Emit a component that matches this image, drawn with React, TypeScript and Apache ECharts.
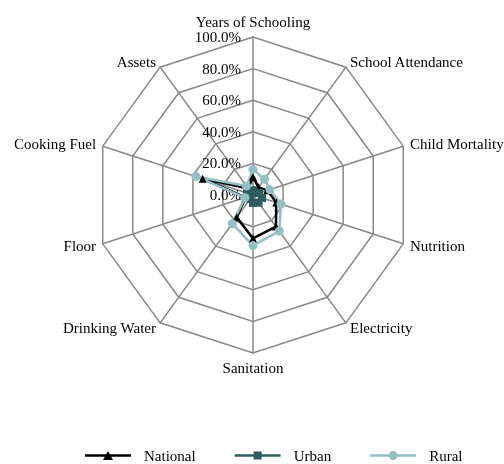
import React, { useEffect, useRef } from "react";
import * as echarts from "echarts";

const categories = [
  "Years of Schooling",
  "School Attendance",
  "Child Mortality",
  "Nutrition",
  "Electricity",
  "Sanitation",
  "Drinking Water",
  "Floor",
  "Cooking Fuel",
  "Assets",
];
const national = [11.5, 6, 9.5, 15.5, 24.7, 27.5, 17.5, 5, 33.5, 5];
const urban = [3, 2, 4, 6, 6, 5, 3, 2, 4, 2];
const rural = [16.2, 12.4, 11.2, 18.6, 28.3, 32, 22.4, 5.3, 38, 7];
const seriesNames = ["National", "Urban", "Rural"];
const colors = ["#000000", "#2E5C5E", "#93C0C2"];
const symbols = ["triangle", "rect", "circle"];

const FONT = "'Liberation Serif', 'Times New Roman', serif";

// legend icons: line with marker in the middle (46 x 9 box)
const LINE = "M0 3.2 L46 3.2 L46 5.8 L0 5.8 Z ";
const legendIcons = [
  "path://" + LINE + "M23 0 L28 9 L18 9 Z",
  "path://" + LINE + "M19 0.5 L27 0.5 L27 8.5 L19 8.5 Z",
  "path://" + LINE + "M27.5 4.5 A4.5 4.5 0 1 1 18.5 4.5 A4.5 4.5 0 1 1 27.5 4.5 Z",
];

export default function App() {
  const ref = useRef<HTMLDivElement>(null);
  useEffect(() => {
    if (!ref.current) return;
    const chart = echarts.init(ref.current, undefined, { renderer: "svg" });
    const n = categories.length;
    // clockwise ordering starting at the top
    const order = categories.map((_, i) => (n - i) % n);
    const dataSets = [national, urban, rural];
    chart.setOption({
      animation: false,
      textStyle: { fontFamily: FONT },
      legend: {
        bottom: -4,
        left: 80,
        itemWidth: 46,
        itemHeight: 9,
        itemGap: 39,
        data: seriesNames.map((s, i) => ({ name: s, icon: legendIcons[i] })),
        itemStyle: { borderWidth: 0 },
        textStyle: { fontFamily: FONT, fontSize: 15, color: "#000", padding: [0, 0, 0, 8] },
      },
      radar: {
        center: [253, 195],
        radius: 158,
        shape: "polygon",
        startAngle: 90,
        splitNumber: 5,
        axisName: { color: "#000", fontFamily: FONT, fontSize: 15 },
        nameGap: 7,
        indicator: order.map((k, i) => ({
          name: categories[k],
          min: 0,
          max: 100,
          ...(i === 0
            ? {
                axisLabel: {
                  show: true,
                  color: "#000",
                  fontFamily: FONT,
                  fontSize: 15,
                  margin: 12,
                  formatter: (v: number) => v.toFixed(1) + "%",
                },
              }
            : {}),
        })),
        axisLabel: { show: false },
        axisLine: { lineStyle: { color: "#888", width: 1.5 } },
        splitLine: { lineStyle: { color: "#888", width: 1.5 } },
        splitArea: { show: false },
        axisTick: { show: false },
      },
      series: [
        {
          type: "radar",
          data: dataSets.map((d, i) => ({
            name: seriesNames[i],
            value: order.map((k) => d[k]),
            symbol: symbols[i],
            symbolSize: i === 2 ? 9 : 8,
            lineStyle: { color: colors[i], width: 2.5 },
            itemStyle: { color: colors[i] },
          })),
        },
      ],
    });
    return () => chart.dispose();
  }, []);
  return (
    <div
      ref={ref}
      style={{ position: "fixed", left: 0, top: 0, width: 504, height: 464 }}
    />
  );
}
